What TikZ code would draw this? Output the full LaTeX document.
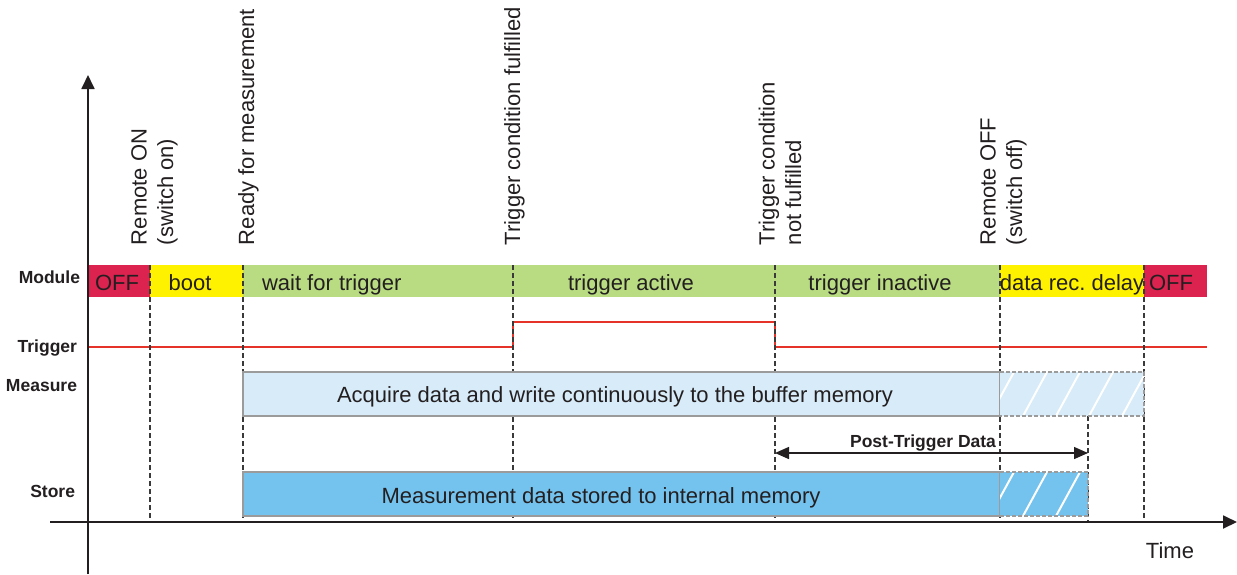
\documentclass[tikz,border=0pt]{standalone}
\usepackage{fontspec}
\setmainfont{Liberation Sans}
\usetikzlibrary{arrows.meta}
\definecolor{offred}{HTML}{DC2350}
\definecolor{bootyel}{HTML}{FFF200}
\definecolor{waitgrn}{HTML}{B9DC82}
\definecolor{measblue}{HTML}{D7EBF9}
\definecolor{storeblue}{HTML}{74C3EE}
\definecolor{trigred}{HTML}{E6332A}
\definecolor{txt}{HTML}{231F20}
\definecolor{boxgrey}{HTML}{9B9B9B}
\definecolor{dashgrey}{HTML}{3A3A3A}
\frenchspacing
\begin{document}
\begin{tikzpicture}[x=1pt,y=-1pt,
  every node/.style={text=txt,font=\fontsize{22}{26.4}\selectfont,inner sep=0pt,outer sep=0pt},
  seg/.style={anchor=north west,minimum height=32pt,draw=none},
  rowlabel/.style={anchor=base east,font=\fontsize{17.5}{20}\selectfont\bfseries},
  evlabel/.style={rotate=90,anchor=base west,align=left},
  vdash/.style={draw=dashgrey,line width=1.4pt,dash pattern=on 5pt off 3pt},
  axis/.style={draw=txt,line width=1.8pt,-{Triangle[width=13pt,length=14pt]}},
  mbox/.style={anchor=north west,draw=boxgrey,line width=1.1pt},
  hbox/.style={draw=boxgrey,line width=1.1pt,dash pattern=on 4pt off 2pt},
  stripe/.style={draw=white,line width=2pt},
  trig/.style={draw=trigred,line width=1.8pt},
  dimarrow/.style={draw=txt,line width=1.4pt,{Triangle[width=12pt,length=14pt]}-{Triangle[width=12pt,length=14pt]}}
]
\useasboundingbox (0,0) rectangle (1237,574);

% module bar
\node[seg,fill=offred,minimum width=62pt] (off1) at (88,265) {};
\node[seg,fill=bootyel,minimum width=93pt] (boot) at (150,265) {};
\node[seg,fill=waitgrn,minimum width=270pt] (wait) at (243,265) {};
\node[seg,fill=waitgrn,minimum width=262pt] (act) at (513,265) {};
\node[seg,fill=waitgrn,minimum width=225pt] (inact) at (775,265) {};
\node[seg,fill=bootyel,minimum width=144pt] (delay) at (1000,265) {};
\node[seg,fill=offred,minimum width=63pt] (off2) at (1144,265) {};
\node[anchor=base] (toff1) at (117,290) {OFF};
\node[anchor=base] (tboot) at (190,290) {boot};
\node[anchor=base west] (twait) at (262,290) {wait for trigger};
\node[anchor=base] (tact) at (631,290) {trigger active};
\node[anchor=base] (tinact) at (880,290) {trigger inactive};
\node[anchor=base] (tdelay) at (1072,290) {data rec. delay};
\node[anchor=base] (toff2) at (1171,290) {OFF};

% row labels
\node[rowlabel] (lmod) at (80,283) {Module};
\node[rowlabel] (ltrig) at (77,352) {Trigger};
\node[rowlabel] (lmeas) at (77,391) {Measure};
\node[rowlabel] (lstore) at (75,497) {Store};

% event labels (base = baseline of last line)
\node[evlabel] (e1) at (173,245) {Remote ON\\(switch on)};
\node[evlabel] (e2) at (254,245) {Ready for measurement};
\node[evlabel] (e3) at (520,245) {Trigger condition fulfilled};
\node[evlabel] (e4) at (801,245) {Trigger condition\\not fulfilled};
\node[evlabel] (e5) at (1022,245) {Remote OFF\\(switch off)};

% trigger signal
\coordinate (t0) at (88,347);
\coordinate (t1) at (513,347);
\coordinate (t2) at (513,322);
\coordinate (t3) at (775,322);
\coordinate (t4) at (775,347);
\coordinate (t5) at (1207,347);
\draw[trig] (t0) -- (t1) -- (t2) -- (t3) -- (t4) -- (t5);

% dashed event lines
\foreach \x in {150,243,513,775,1000,1144}{
  \draw[vdash] (\x,265) -- (\x,522);
}
\coordinate (pe) at (1088,416);
\coordinate (pf) at (1088,522);
\draw[vdash] (pe) -- (pf);

% measure row
\node[mbox,fill=measblue,minimum width=757pt,minimum height=44pt] (meas) at (243,372) {};
\fill[measblue] (1000,372) rectangle (1144,416);
\begin{scope}
  \clip (1000,372) rectangle (1144,416);
  \foreach \i in {0,...,6}{\draw[stripe] (990+\i*33,416) -- ++(24,-44);}
\end{scope}
\draw[hbox] (1000,372) -- (1144,372) -- (1144,416) -- (1000,416);
\node[anchor=base] (tmeas) at (615,402) {Acquire data and write continuously to the buffer memory};

% store row
\node[mbox,fill=storeblue,minimum width=757pt,minimum height=44pt] (store) at (243,472) {};
\fill[storeblue] (1000,472) rectangle (1088,516);
\begin{scope}
  \clip (1000,472) rectangle (1088,516);
  \foreach \i in {0,...,4}{\draw[stripe] (990+\i*33,516) -- ++(24,-44);}
\end{scope}
\draw[hbox] (1000,472) -- (1088,472) -- (1088,516) -- (1000,516);
\node[anchor=base] (tstore) at (601,503) {Measurement data stored to internal memory};

% post-trigger dimension
\coordinate (pl) at (775,453);
\coordinate (pr) at (1088,453);
\draw[dimarrow] (pl) -- (pr);
\node[anchor=base,font=\fontsize{17.5}{20}\selectfont\bfseries] (tpost) at (923,447) {Post-Trigger Data};

% axes
\coordinate (yb) at (88,574);
\coordinate (yt) at (88,75);
\coordinate (xl) at (50,522);
\coordinate (xr) at (1237,522);
\draw[axis] (yb) -- (yt);
\draw[axis] (xl) -- (xr);
\node[anchor=base] (ttime) at (1170,558) {Time};
\end{tikzpicture}
\end{document}
